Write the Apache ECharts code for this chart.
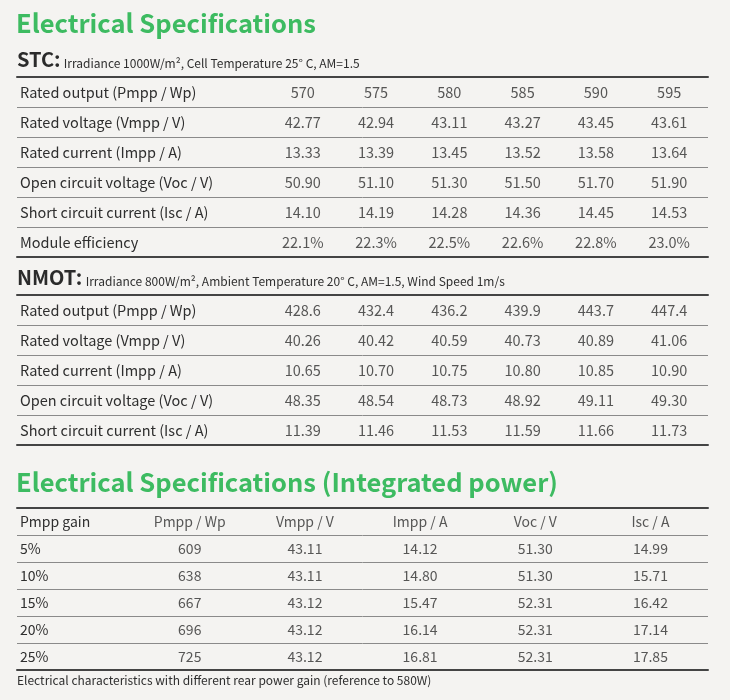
<!DOCTYPE html>
<html>
<head>
<meta charset="utf-8">
<script src="https://cdn.jsdelivr.net/npm/echarts@6/dist/echarts.min.js"></script>
<style>
html,body{margin:0;padding:0;background:#f4f3f1;}
#main{width:730px;height:700px;}
</style>
</head>
<body>
<div id="main"></div>
<script>
// ---- data ----
var stcRows = ['Rated output (Pmpp / Wp)', 'Rated voltage (Vmpp / V)', 'Rated current (Impp / A)', 'Open circuit voltage (Voc / V)', 'Short circuit current (Isc / A)', 'Module efficiency'];
var stcOutput = [570, 575, 580, 585, 590, 595];
var stcVmpp = [42.77, 42.94, 43.11, 43.27, 43.45, 43.61];
var stcImpp = [13.33, 13.39, 13.45, 13.52, 13.58, 13.64];
var stcVoc = [50.90, 51.10, 51.30, 51.50, 51.70, 51.90];
var stcIsc = [14.10, 14.19, 14.28, 14.36, 14.45, 14.53];
var stcEff = [22.1, 22.3, 22.5, 22.6, 22.8, 23.0];

var nmotRows = ['Rated output (Pmpp / Wp)', 'Rated voltage (Vmpp / V)', 'Rated current (Impp / A)', 'Open circuit voltage (Voc / V)', 'Short circuit current (Isc / A)'];
var nmotOutput = [428.6, 432.4, 436.2, 439.9, 443.7, 447.4];
var nmotVmpp = [40.26, 40.42, 40.59, 40.73, 40.89, 41.06];
var nmotImpp = [10.65, 10.70, 10.75, 10.80, 10.85, 10.90];
var nmotVoc = [48.35, 48.54, 48.73, 48.92, 49.11, 49.30];
var nmotIsc = [11.39, 11.46, 11.53, 11.59, 11.66, 11.73];

var gainHeaders = ['Pmpp gain', 'Pmpp / Wp', 'Vmpp / V', 'Impp / A', 'Voc / V', 'Isc / A'];
var gainLevels = [5, 10, 15, 20, 25];
var gainPmpp = [609, 638, 667, 696, 725];
var gainVmpp = [43.11, 43.11, 43.12, 43.12, 43.12];
var gainImpp = [14.12, 14.80, 15.47, 16.14, 16.81];
var gainVoc = [51.30, 51.30, 52.31, 52.31, 52.31];
var gainIsc = [14.99, 15.71, 16.42, 17.14, 17.85];

var title1 = 'Electrical Specifications';
var title2 = 'Electrical Specifications (Integrated power)';
var stcNote = 'Irradiance 1000W/m\u00B2, Cell Temperature 25\u00B0 C, AM=1.5';
var nmotNote = 'Irradiance 800W/m\u00B2, Ambient Temperature 20\u00B0 C, AM=1.5, Wind Speed 1m/s';
var footer = 'Electrical characteristics with different rear power gain (reference to 580W)';

// ---- build ----
var FONT = '"Noto Sans CJK SC", "Source Sans Pro", "Noto Sans", sans-serif';
var TXT = '#2e2e2e';
var GREEN = '#3dbb61';

function cells(rowsOfArrays, decimals, suffixes) {
  var out = [];
  rowsOfArrays.forEach(function (arr, r) {
    arr.forEach(function (v, c) {
      var s = (typeof v === 'number') ? v.toFixed(decimals[r]) + (suffixes[r] || '') : v;
      out.push([c, r, s]);
    });
  });
  return out;
}

var stcData = cells([stcOutput, stcVmpp, stcImpp, stcVoc, stcIsc, stcEff], [0, 2, 2, 2, 2, 1], ['', '', '', '', '', '%']);
var nmotData = cells([nmotOutput, nmotVmpp, nmotImpp, nmotVoc, nmotIsc], [1, 2, 2, 2, 2], ['', '', '', '', '']);

var gainData = [];
gainHeaders.forEach(function (h, c) { if (c > 0) gainData.push([c, 0, h]); });
var gainCols = [gainPmpp, gainVmpp, gainImpp, gainVoc, gainIsc];
var gainDec = [0, 2, 2, 2, 2];
gainCols.forEach(function (col, ci) {
  col.forEach(function (v, r) { gainData.push([ci + 1, r + 1, v.toFixed(gainDec[ci])]); });
});
var gainRowLabels = [gainHeaders[0]].concat(gainLevels.map(function (g) { return g + '%'; }));

var grids = [
  { left: 17, right: 22, top: 77, height: 180 },
  { left: 17, right: 22, top: 295, height: 150 },
  { left: 17, right: 22, top: 508, height: 162 }
];

var xAxes = [], yAxes = [];
var xRanges = [[-3.9, 5.53], [-3.9, 5.53], [-0.5, 5.5]];
var fontSizes = [14.5, 14.5, 14];
[stcRows, nmotRows, gainRowLabels].forEach(function (rows, g) {
  ['bottom', 'top'].forEach(function (pos) {
    xAxes.push({
      type: 'value', gridIndex: g, position: pos, min: xRanges[g][0], max: xRanges[g][1],
      axisLine: { show: true, onZero: false, lineStyle: { color: '#444', width: 2 } },
      axisTick: { show: false }, axisLabel: { show: false }, splitLine: { show: false }
    });
  });
  yAxes.push({
    type: 'category', gridIndex: g, data: rows, inverse: true, boundaryGap: true,
    axisLine: { show: false }, axisTick: { show: false },
    axisLabel: { inside: true, margin: 3, color: TXT, fontFamily: FONT, fontSize: fontSizes[g] },
    splitLine: { show: true, lineStyle: { color: '#8a8a8a', width: 1 } }
  });
});

function cellSeries(data, g) {
  return {
    type: 'scatter', xAxisIndex: g * 2, yAxisIndex: g, data: data, symbolSize: 0,
    silent: true, animation: false,
    label: {
      show: true, position: 'inside', color: TXT, fontFamily: FONT, fontSize: fontSizes[g],
      formatter: function (p) { return p.value[2]; }
    }
  };
}

var option = {
  backgroundColor: '#f4f3f1',
  animation: false,
  grid: grids,
  xAxis: xAxes,
  yAxis: yAxes,
  series: [cellSeries(stcData, 0), cellSeries(nmotData, 1), cellSeries(gainData, 2)],
  graphic: [
    { type: 'text', left: 16, top: 11, style: { text: title1, fill: GREEN, font: 'bold 25.5px ' + FONT } },
    { type: 'text', left: 17, top: 49, style: {
        text: '{b|STC:} {n|' + stcNote + '}',
        rich: {
          b: { fontFamily: FONT, fontWeight: 'bold', fontSize: 20, fill: '#2b2b2b', verticalAlign: 'bottom', lineHeight: 25 },
          n: { fontFamily: FONT, fontSize: 12, fill: TXT, verticalAlign: 'bottom', lineHeight: 23 }
        } } },
    { type: 'text', left: 17, top: 267, style: {
        text: '{b|NMOT:} {n|' + nmotNote + '}',
        rich: {
          b: { fontFamily: FONT, fontWeight: 'bold', fontSize: 20, fill: '#2b2b2b', verticalAlign: 'bottom', lineHeight: 25 },
          n: { fontFamily: FONT, fontSize: 12, fill: TXT, verticalAlign: 'bottom', lineHeight: 23 }
        } } },
    { type: 'text', left: 16, top: 470, style: { text: title2, fill: GREEN, font: 'bold 25.5px ' + FONT } },
    { type: 'text', left: 17, top: 674, style: { text: footer, fill: TXT, font: '12px ' + FONT } }
  ]
};

var chart = echarts.init(document.getElementById('main'));
chart.setOption(option);
</script>
</body>
</html>
